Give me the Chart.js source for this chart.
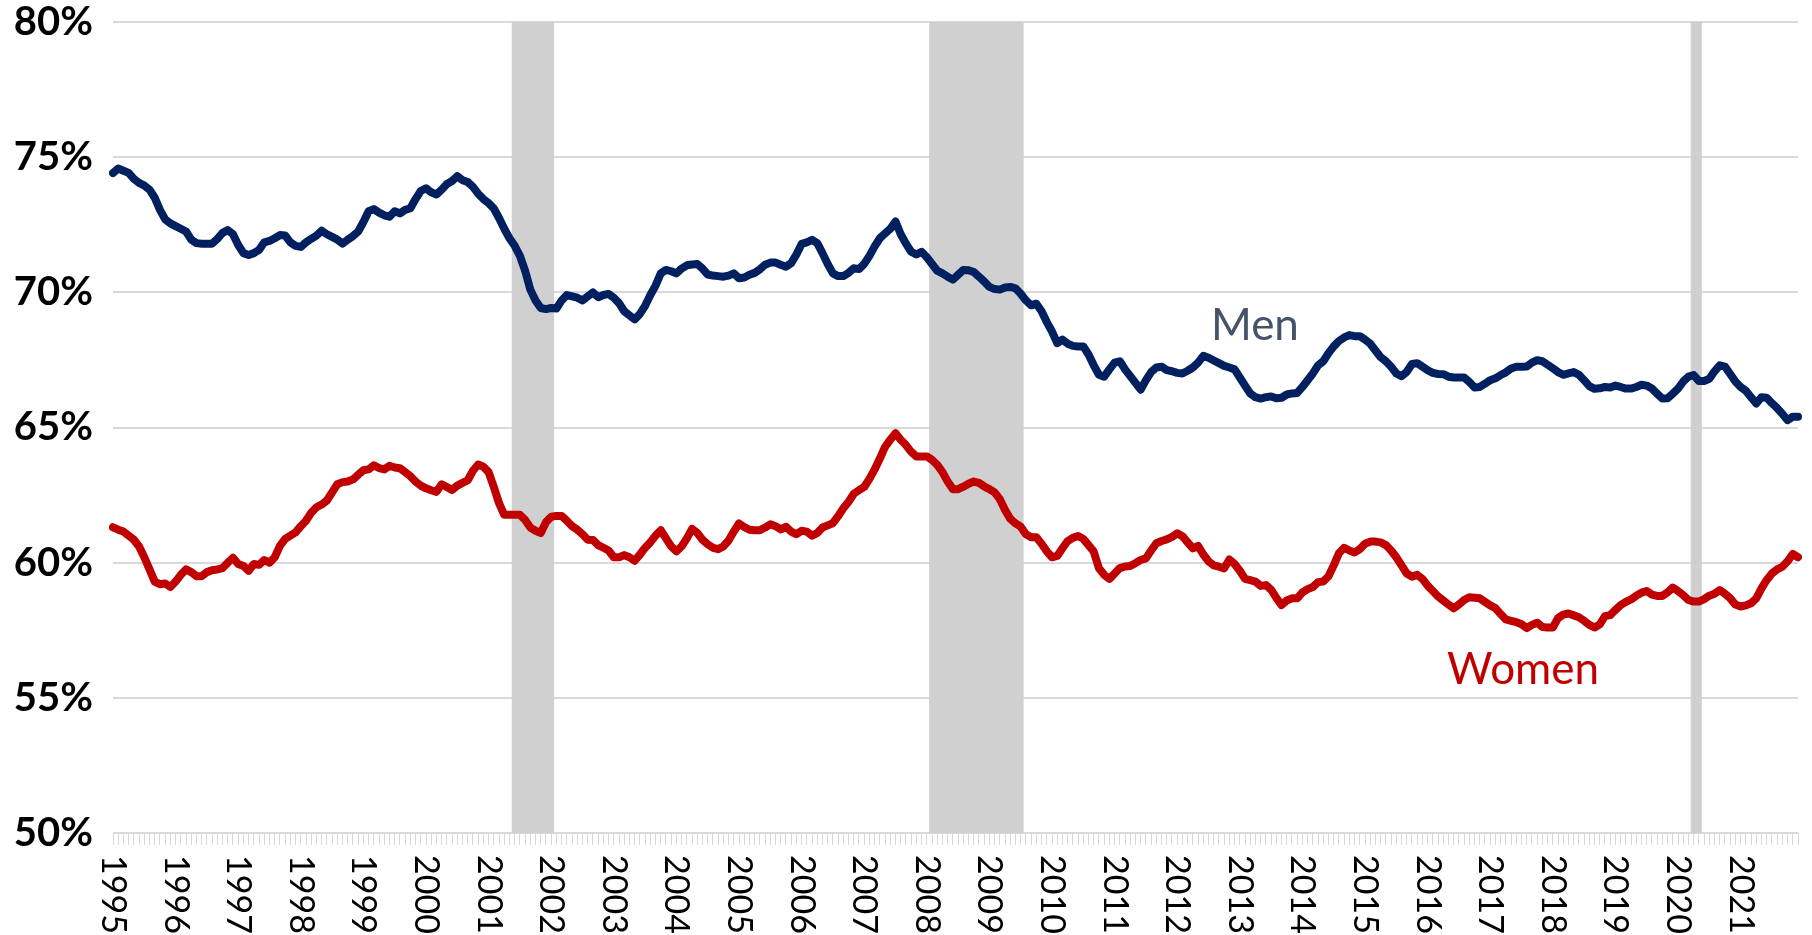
<!DOCTYPE html>
<html>
<head>
<meta charset="utf-8">
<script src="https://cdn.jsdelivr.net/npm/chart.js@4.4.1/dist/chart.umd.min.js"></script>
<style>
  body { margin: 0; background: #fff; }
  #wrap { width: 1812px; height: 935px; position: relative; }
</style>
</head>
<body>
<div id="wrap"><canvas id="myChart"></canvas></div>
<script>
// years on the axis, one label each January
const years = ['1995','1996','1997','1998','1999','2000','2001','2002','2003','2004','2005','2006','2007',
  '2008','2009','2010','2011','2012','2013','2014','2015','2016','2017','2018','2019','2020','2021'];

// monthly values, one row per year (Jan..Dec)
const men = [
  74.41,74.58,74.5,74.42,74.2,74.05,73.95,73.8,73.5,73.05,72.7,72.55,
  72.45,72.35,72.25,71.95,71.82,71.8,71.8,71.8,71.98,72.2,72.3,72.15,
  71.75,71.45,71.38,71.45,71.57,71.85,71.9,72.0,72.12,72.1,71.85,71.72,
  71.68,71.85,71.98,72.1,72.28,72.15,72.05,71.95,71.8,71.95,72.08,72.25,
  72.6,73.0,73.08,72.95,72.85,72.8,73.0,72.92,73.05,73.11,73.45,73.75,
  73.85,73.7,73.62,73.8,74.01,74.12,74.3,74.15,74.08,73.9,73.65,73.45,
  73.3,73.1,72.75,72.35,72.0,71.72,71.35,70.8,70.1,69.7,69.42,69.38,
  69.42,69.4,69.7,69.9,69.85,69.8,69.7,69.85,70.0,69.82,69.9,69.94,
  69.8,69.6,69.3,69.15,69.0,69.2,69.5,69.9,70.25,70.7,70.83,70.78,
  70.7,70.88,71.0,71.03,71.05,70.88,70.66,70.62,70.6,70.58,70.62,70.7,
  70.52,70.55,70.65,70.72,70.85,71.02,71.1,71.1,71.02,70.95,71.08,71.4,
  71.79,71.85,71.94,71.82,71.45,71.05,70.7,70.6,70.6,70.72,70.89,70.86,
  71.05,71.35,71.7,72.0,72.18,72.35,72.62,72.15,71.8,71.5,71.4,71.5,
  71.3,71.05,70.8,70.7,70.58,70.47,70.65,70.83,70.82,70.75,70.58,70.4,
  70.2,70.12,70.1,70.18,70.2,70.15,69.95,69.7,69.52,69.58,69.3,68.9,
  68.55,68.12,68.25,68.1,68.02,68.0,68.0,67.7,67.3,66.95,66.88,67.15,
  67.4,67.45,67.15,66.9,66.65,66.4,66.75,67.05,67.22,67.25,67.12,67.08,
  67.02,67.0,67.1,67.22,67.4,67.65,67.58,67.48,67.38,67.28,67.22,67.15,
  66.85,66.55,66.26,66.12,66.07,66.12,66.15,66.08,66.1,66.22,66.26,66.28,
  66.5,66.75,67.0,67.3,67.45,67.75,68.0,68.2,68.33,68.42,68.38,68.38,
  68.25,68.1,67.85,67.6,67.45,67.25,67.0,66.9,67.06,67.35,67.38,67.25,
  67.12,67.02,66.98,66.97,66.88,66.85,66.85,66.85,66.68,66.48,66.5,66.62,
  66.75,66.82,66.94,67.04,67.18,67.25,67.25,67.26,67.4,67.49,67.45,67.32,
  67.19,67.05,66.95,67.0,67.05,66.95,66.75,66.53,66.43,66.45,66.5,66.48,
  66.55,66.5,66.44,66.44,66.5,66.58,66.55,66.44,66.25,66.07,66.08,66.25,
  66.44,66.7,66.88,66.94,66.72,66.72,66.8,67.08,67.3,67.25,66.98,66.7,
  66.5,66.36,66.12,65.89,66.12,66.1,65.9,65.72,65.5,65.27,65.4,65.4
];

const women = [
  61.31,61.22,61.15,61.0,60.85,60.6,60.2,59.75,59.3,59.2,59.23,59.1,
  59.3,59.55,59.75,59.65,59.5,59.5,59.65,59.72,59.75,59.8,60.0,60.18,
  59.95,59.88,59.7,59.95,59.92,60.1,60.0,60.2,60.62,60.88,61.0,61.12,
  61.35,61.55,61.85,62.05,62.15,62.3,62.6,62.9,62.98,63.0,63.08,63.25,
  63.42,63.45,63.6,63.5,63.45,63.58,63.52,63.49,63.35,63.2,63.0,62.85,
  62.75,62.68,62.62,62.9,62.8,62.69,62.85,62.95,63.05,63.4,63.63,63.55,
  63.35,62.8,62.2,61.77,61.77,61.77,61.77,61.58,61.3,61.18,61.1,61.5,
  61.7,61.73,61.73,61.55,61.35,61.22,61.05,60.85,60.84,60.65,60.55,60.45,
  60.2,60.2,60.28,60.2,60.07,60.3,60.55,60.75,61.0,61.2,60.9,60.6,
  60.42,60.6,60.9,61.25,61.1,60.85,60.68,60.55,60.5,60.6,60.82,61.15,
  61.45,61.32,61.22,61.2,61.2,61.3,61.42,61.35,61.23,61.33,61.15,61.05,
  61.18,61.15,61.0,61.1,61.3,61.38,61.46,61.72,62.01,62.25,62.55,62.68,
  62.8,63.1,63.45,63.85,64.28,64.55,64.79,64.55,64.35,64.1,63.93,63.93,
  63.93,63.8,63.62,63.35,63.0,62.72,62.72,62.81,62.92,63.0,62.95,62.82,
  62.72,62.6,62.35,61.95,61.62,61.45,61.33,61.05,60.94,60.94,60.7,60.42,
  60.2,60.25,60.53,60.8,60.92,60.99,60.88,60.65,60.41,59.79,59.55,59.4,
  59.6,59.8,59.86,59.88,59.98,60.1,60.16,60.45,60.72,60.8,60.86,60.95,
  61.09,60.98,60.75,60.53,60.62,60.3,60.05,59.9,59.85,59.79,60.12,59.95,
  59.7,59.4,59.35,59.3,59.14,59.17,59.0,58.7,58.43,58.6,58.68,58.68,
  58.9,59.02,59.1,59.28,59.3,59.5,59.9,60.35,60.55,60.45,60.38,60.5,
  60.7,60.78,60.78,60.75,60.65,60.45,60.2,59.9,59.6,59.48,59.55,59.4,
  59.15,58.95,58.75,58.6,58.45,58.31,58.45,58.62,58.72,58.7,58.68,58.55,
  58.42,58.32,58.1,57.9,57.85,57.8,57.72,57.58,57.7,57.78,57.62,57.6,
  57.6,57.95,58.08,58.12,58.05,57.98,57.85,57.7,57.6,57.72,58.02,58.06,
  58.25,58.43,58.55,58.64,58.78,58.89,58.95,58.82,58.77,58.77,58.9,59.08,
  58.95,58.8,58.62,58.56,58.56,58.65,58.78,58.85,58.99,58.85,58.68,58.45,
  58.38,58.42,58.5,58.68,59.05,59.36,59.6,59.75,59.85,60.05,60.32,60.2
];

// shaded recession periods (first and last month)
const recessions = [['2001-06', '2002-01'], ['2008-02', '2009-07'], ['2020-04', '2020-05']];

const yMin = 50, yMax = 80, yStep = 5;

const months = [];
years.forEach(y => {
  for (let m = 1; m <= 12; m++) months.push(y + '-' + String(m).padStart(2, '0'));
});
const shade = months.map(m => recessions.some(r => m >= r[0] && m <= r[1]) ? yMax : null);

const FONT = 'Lato, Carlito, Calibri, sans-serif';

// year labels read top to bottom, like the original
const yearLabels = {
  id: 'yearLabels',
  afterDraw(chart) {
    const xs = chart.scales.x, ctx = chart.ctx;
    ctx.save();
    ctx.font = '34px ' + FONT;
    ctx.fillStyle = '#000';
    ctx.textAlign = 'left';
    ctx.textBaseline = 'middle';
    months.forEach((m, i) => {
      if (!m.endsWith('-01')) return;
      ctx.save();
      ctx.translate(xs.getPixelForValue(i), xs.top + 22);
      ctx.rotate(Math.PI / 2);
      ctx.fillText(m.slice(0, 4), 0, 0);
      ctx.restore();
    });
    ctx.restore();
  }
};

// "Men" / "Women" text next to the lines
const seriesNames = {
  id: 'seriesNames',
  afterDatasetsDraw(chart) {
    const xs = chart.scales.x, ys = chart.scales.y, ctx = chart.ctx;
    ctx.save();
    ctx.font = '44px ' + FONT;
    ctx.textAlign = 'center';
    ctx.textBaseline = 'alphabetic';
    ctx.fillStyle = '#44546A';
    ctx.fillText('Men', xs.getPixelForValue(218.9), ys.getPixelForValue(68.24));
    ctx.fillStyle = '#C00000';
    ctx.fillText('Women', xs.getPixelForValue(270.3), ys.getPixelForValue(55.51));
    ctx.restore();
  }
};

const ctx = document.getElementById('myChart');
new Chart(ctx, {
  type: 'line',
  data: {
    labels: months,
    datasets: [
      {
        label: 'Men',
        data: men,
        borderColor: '#002060',
        borderWidth: 8,
        pointRadius: 0,
        borderJoinStyle: 'round',
        borderCapStyle: 'round',
        tension: 0,
        order: 1
      },
      {
        label: 'Women',
        data: women,
        borderColor: '#C00000',
        borderWidth: 8,
        pointRadius: 0,
        borderJoinStyle: 'round',
        borderCapStyle: 'round',
        tension: 0,
        order: 2
      },
      {
        type: 'bar',
        label: 'Recession',
        data: shade,
        backgroundColor: '#d0d0d0',
        borderWidth: 0,
        barPercentage: 1,
        categoryPercentage: 1,
        order: 3
      }
    ]
  },
  options: {
    responsive: true,
    maintainAspectRatio: false,
    animation: false,
    devicePixelRatio: 1,
    layout: { padding: { top: 22, right: 14, left: 0, bottom: 0 } },
    plugins: { legend: { display: false }, tooltip: { enabled: false } },
    scales: {
      x: {
        type: 'category',
        offset: false,
        border: { display: false },
        grid: {
          offset: false,
          drawOnChartArea: false,
          drawTicks: true,
          tickLength: 12,
          color: '#d9d9d9',
          lineWidth: 1
        },
        ticks: { display: false, autoSkip: false },
        afterFit(scale) { scale.height = 102; }
      },
      y: {
        min: yMin,
        max: yMax,
        border: { display: false },
        grid: { color: '#d9d9d9', lineWidth: 2, drawTicks: false },
        ticks: {
          stepSize: yStep,
          padding: 20,
          color: '#000',
          font: { family: FONT, size: 40, weight: 'bold' },
          callback: v => v + '%'
        },
        afterFit(scale) {
          scale.width = 113;
          scale.paddingTop = 0;
          scale.paddingBottom = 0;
        }
      }
    }
  },
  plugins: [yearLabels, seriesNames]
});
</script>
</body>
</html>
